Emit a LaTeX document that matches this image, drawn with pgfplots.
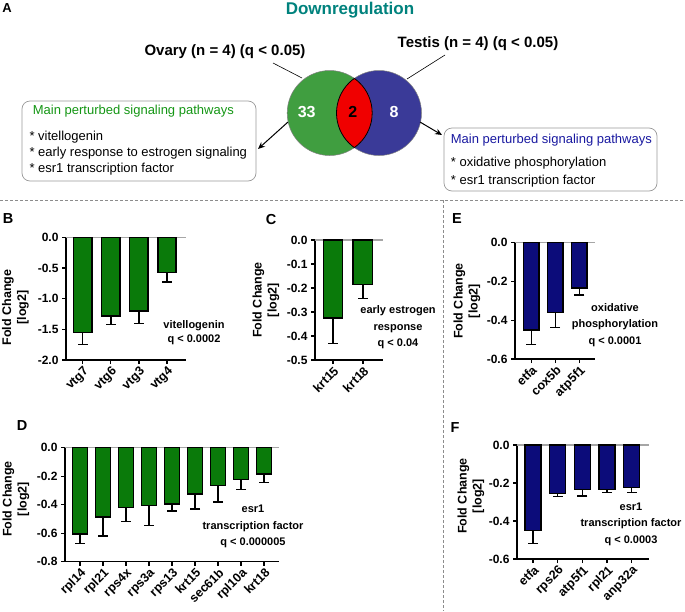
\documentclass[border=0pt]{standalone}
\usepackage{pgfplots}
\pgfplotsset{compat=1.18}
\usepackage{fontspec}
\setmainfont{Liberation Sans}
\usetikzlibrary{arrows.meta}

\definecolor{tealtitle}{RGB}{0,130,125}
\definecolor{vgreen}{RGB}{64,158,64}
\definecolor{vblue}{RGB}{58,58,152}
\definecolor{vred}{RGB}{240,0,0}
\definecolor{txtgreen}{RGB}{20,150,20}
\definecolor{txtblue}{RGB}{25,25,160}
\definecolor{bargreen}{RGB}{10,122,10}
\definecolor{barblue}{RGB}{12,12,122}

\pgfkeys{/pgf/number format/assume math mode=true}
\pgfplotsset{
  fc/.style={
    scale only axis, anchor=north west,
    axis x line*=bottom, axis y line*=left,
    axis line style={line width=1.5pt, black},
    tick align=outside, major tick length=4pt,
    tick style={line width=1.2pt, black},
    ybar, bar width=0.65, enlargelimits=false, ymax=0, clip=false,
    yticklabel style={font=\bfseries\fontsize{12}{12}\selectfont,
      /pgf/number format/fixed, /pgf/number format/fixed zerofill,
      /pgf/number format/precision=1},
    xticklabel style={font=\bfseries\fontsize{12.5}{12.5}\selectfont,
      rotate=45, anchor=north east, inner sep=1pt},
  },
  barstyle/.style={fill=#1, draw=black, line width=1.4pt,
    error bars/.cd, y dir=minus, y explicit,
    error bar style={line width=1.3pt, black},
    error mark options={rotate=90, line width=1.3pt, black, mark size=5pt}},
}
\newcommand{\zeroline}{\draw[black!35, line width=1.2pt] (rel axis cs:0,1) -- (rel axis cs:1,1);}

\begin{document}
\begin{tikzpicture}
\useasboundingbox (0,0) rectangle (685pt,-611pt);

% ---- panel A: venn ----
\node[font=\bfseries\fontsize{13}{13}\selectfont] at (7pt,-8pt) {A};
\node[font=\bfseries\fontsize{17}{17}\selectfont, text=tealtitle] at (350pt,-10pt) {Downregulation};
\node[font=\bfseries\fontsize{15}{15}\selectfont] at (225pt,-52pt) {Ovary (n = 4) (q < 0.05)};
\node[font=\bfseries\fontsize{15}{15}\selectfont] at (478pt,-44pt) {Testis (n = 4) (q < 0.05)};
\draw[line width=0.6pt] (273pt,-63pt) -- (302pt,-78pt);
\draw[line width=0.6pt] (445pt,-55pt) -- (407pt,-79pt);

\fill[vgreen] (329.7pt,-113pt) circle (42.5pt);
\fill[vblue] (379pt,-113pt) circle (42.5pt);
\draw[black!50, line width=0.5pt] (329.7pt,-113pt) circle (42.5pt) (379pt,-113pt) circle (42.5pt);
\begin{scope}
  \clip (329.7pt,-113pt) circle (42.5pt);
  \fill[vred] (379pt,-113pt) circle (42.5pt);
  \draw[line width=0.8pt] (379pt,-113pt) circle (42.5pt);
\end{scope}
\begin{scope}
  \clip (379pt,-113pt) circle (42.5pt);
  \draw[line width=0.8pt] (329.7pt,-113pt) circle (42.5pt);
\end{scope}
\node[font=\bfseries\fontsize{16}{16}\selectfont, text=white] at (306.7pt,-112pt) {33};
\node[font=\bfseries\fontsize{16}{16}\selectfont] at (352.7pt,-112pt) {2};
\node[font=\bfseries\fontsize{16}{16}\selectfont, text=white] at (394pt,-112pt) {8};

\draw[black!40, line width=0.7pt, rounded corners=8pt] (22pt,-101pt) rectangle (256pt,-181pt);
\draw[black!40, line width=0.7pt, rounded corners=8pt] (444pt,-128pt) rectangle (657pt,-191pt);
\draw[-{Stealth[length=7pt,width=6pt]}, line width=1pt] (288pt,-122pt) -- (258pt,-149pt);
\draw[-{Stealth[length=7pt,width=6pt]}, line width=1pt] (420pt,-122pt) -- (442pt,-135pt);

\begin{scope}[every node/.style={anchor=west, inner sep=0pt, font=\fontsize{13}{13}\selectfont}]
  \node[text=txtgreen] at (32.7pt,-111pt) {Main perturbed signaling pathways};
  \node at (29.3pt,-137pt) {* vitellogenin};
  \node at (29.3pt,-153pt) {* early response to estrogen signaling};
  \node at (29.3pt,-169pt) {* esr1 transcription factor};
  \node[text=txtblue] at (450.7pt,-140pt) {Main perturbed signaling pathways};
  \node at (450.7pt,-163pt) {* oxidative phosphorylation};
  \node at (450.7pt,-181pt) {* esr1 transcription factor};
\end{scope}

\draw[black!45, dash pattern=on 3pt off 2pt, line width=0.7pt] (0pt,-200pt) -- (685pt,-200pt);
\draw[black!45, dash pattern=on 3pt off 2pt, line width=0.7pt] (443pt,-200pt) -- (443pt,-611pt);

% ---- panel letters and y labels ----
\begin{scope}[every node/.style={font=\bfseries\fontsize{14.5}{14.5}\selectfont}]
  \node at (8pt,-219pt) {B};
  \node at (271pt,-220pt) {C};
  \node at (457pt,-219pt) {E};
  \node at (22pt,-426pt) {D};
  \node at (455pt,-428pt) {F};
\end{scope}
\begin{scope}[every node/.style={rotate=90, align=center, font=\bfseries\fontsize{12.5}{15}\selectfont}]
  \node at (15.5pt,-307.5pt) {Fold Change\\{[log2]}};
  \node at (266pt,-300pt) {Fold Change\\{[log2]}};
  \node at (467pt,-301pt) {Fold Change\\{[log2]}};
  \node at (16pt,-499pt) {Fold Change\\{[log2]}};
  \node at (471pt,-496pt) {Fold Change\\{[log2]}};
\end{scope}

% ---- B ----
\begin{axis}[fc, at={(66pt,-237.3pt)}, width=120pt, height=122.7pt,
  xmin=-0.6, xmax=3.68, ymin=-2, ytick={-2,-1.5,-1,-0.5,0},
  xtick={0,1,2,3}, xticklabels={vtg7,vtg6,vtg3,vtg4}]
\zeroline
\addplot[barstyle=bargreen] coordinates {
  (0,-1.55) +- (0,0.20)
  (1,-1.28) +- (0,0.14)
  (2,-1.20) +- (0,0.20)
  (3,-0.57) +- (0,0.16)
};
\end{axis}

% ---- C ----
\begin{axis}[fc, at={(315pt,-240pt)}, width=68pt, height=120pt,
  xmin=-0.6, xmax=1.67, ymin=-0.5, ytick={-0.5,-0.4,-0.3,-0.2,-0.1,0},
  xtick={0,1}, xticklabels={krt15,krt18}]
\zeroline
\addplot[barstyle=bargreen] coordinates {
  (0,-0.325) +- (0,0.105)
  (1,-0.185) +- (0,0.06)
};
\end{axis}

% ---- E ----
\begin{axis}[fc, at={(515pt,-242.7pt)}, width=80pt, height=116.3pt,
  xmin=-0.67, xmax=2.65, ymin=-0.6, ytick={-0.6,-0.4,-0.2,0},
  xtick={0,1,2}, xticklabels={etfa,cox5b,atp5f1}]
\zeroline
\addplot[barstyle=barblue] coordinates {
  (0,-0.45) +- (0,0.075)
  (1,-0.36) +- (0,0.078)
  (2,-0.233) +- (0,0.037)
};
\end{axis}

% ---- D ----
\begin{axis}[fc, at={(65pt,-447.7pt)}, width=214pt, height=114pt,
  xmin=-0.65, xmax=8.65, ymin=-0.8, ytick={-0.8,-0.6,-0.4,-0.2,0},
  xtick={0,...,8},
  xticklabels={rpl14,rpl21,rps4x,rps3a,rps13,krt15,sec61b,rpl10a,krt18}]
\zeroline
\addplot[barstyle=bargreen] coordinates {
  (0,-0.605) +- (0,0.065)
  (1,-0.485) +- (0,0.135)
  (2,-0.42) +- (0,0.10)
  (3,-0.405) +- (0,0.14)
  (4,-0.395) +- (0,0.05)
  (5,-0.325) +- (0,0.105)
  (6,-0.265) +- (0,0.115)
  (7,-0.225) +- (0,0.07)
  (8,-0.185) +- (0,0.06)
};
\end{axis}

% ---- F ----
\begin{axis}[fc, at={(517pt,-445pt)}, width=132pt, height=114pt,
  xmin=-0.65, xmax=4.7, ymin=-0.6, ytick={-0.6,-0.4,-0.2,0},
  xtick={0,...,4}, xticklabels={etfa,rps26,atp5f1,rpl21,anp32a}]
\zeroline
\addplot[barstyle=barblue] coordinates {
  (0,-0.45) +- (0,0.07)
  (1,-0.255) +- (0,0.015)
  (2,-0.235) +- (0,0.033)
  (3,-0.235) +- (0,0.015)
  (4,-0.225) +- (0,0.025)
};
\end{axis}

% ---- annotations ----
\begin{scope}[every node/.style={align=center, font=\bfseries\fontsize{11}{14}\selectfont}]
  \node at (194pt,-333pt) {vitellogenin\\q < 0.0002};
\end{scope}
\begin{scope}[every node/.style={align=center, font=\bfseries\fontsize{11}{16.5}\selectfont}]
  \node at (398pt,-327.5pt) {early estrogen\\response\\q < 0.04};
  \node at (615pt,-325pt) {oxidative\\phosphorylation\\q < 0.0001};
  \node at (253pt,-526.7pt) {esr1\\transcription factor\\q < 0.000005};
  \node at (631pt,-524pt) {esr1\\transcription factor\\q < 0.0003};
\end{scope}
\end{tikzpicture}
\end{document}
